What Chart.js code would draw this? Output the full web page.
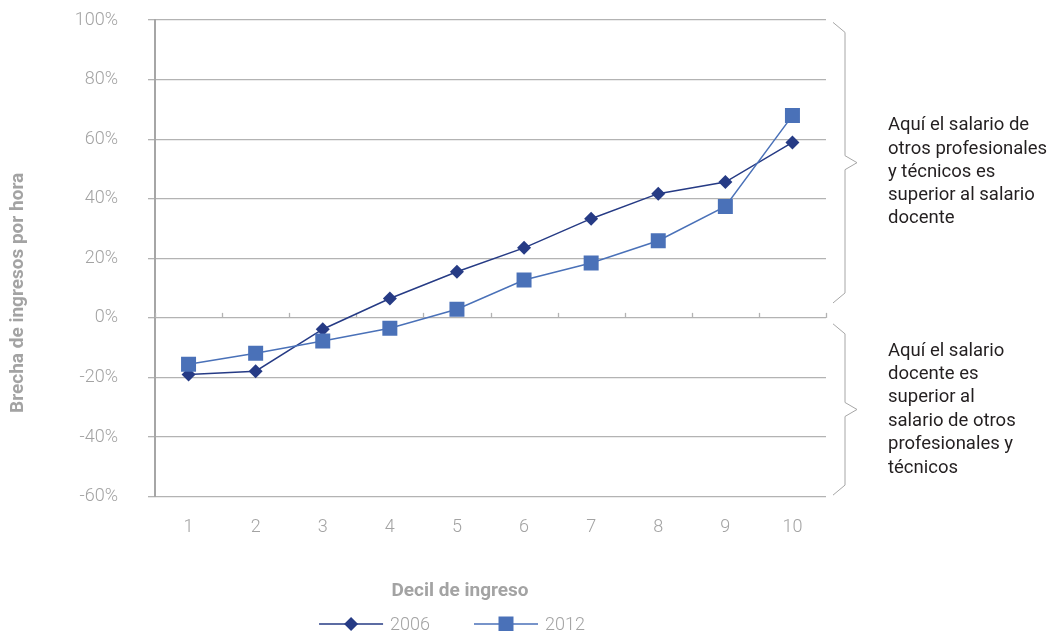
<!DOCTYPE html>
<html>
<head>
<meta charset="utf-8">
<script src="https://cdn.jsdelivr.net/npm/chart.js@4"></script>
<style>
  body { margin: 0; background: #fff; }
  #brecha { display: block; }
</style>
</head>
<body>
<canvas id="brecha" width="1050" height="631"></canvas>
<script>
// Brecha de ingresos por hora por decil, 2006 vs 2012
const deciles = ['1', '2', '3', '4', '5', '6', '7', '8', '9', '10'];
const brecha2006 = [-19, -17.9, -3.8, 6.5, 15.5, 23.5, 33.3, 41.7, 45.6, 58.9];
const brecha2012 = [-15.6, -11.9, -7.8, -3.5, 2.9, 12.7, 18.4, 25.9, 37.4, 67.9];
const ejeMin = -60;
const ejeMax = 100;
const ejePaso = 20;

const tituloY = 'Brecha de ingresos por hora';
const notaArriba = ['Aquí el salario de', 'otros profesionales', 'y técnicos es', 'superior al salario', 'docente'];
const notaAbajo = ['Aquí el salario', 'docente es', 'superior al', 'salario de otros', 'profesionales y', 'técnicos'];

const AZUL_OSCURO = '#263b85';
const AZUL = '#4a71b8';
const GRIS = '#b3b3b3';
const GRIS_TEXTO = '#a3a3a3';
const FUENTE = 'Roboto, "Open Sans", sans-serif';

// marcador de la serie, igual que en el grafico
function marcador(ctx, tipo, x, y) {
    ctx.beginPath();
    if (tipo === 'rectRot') {
        ctx.moveTo(x, y - 7); ctx.lineTo(x + 7, y); ctx.lineTo(x, y + 7); ctx.lineTo(x - 7, y);
    } else {
        ctx.rect(x - 7.5, y - 7.5, 15, 15);
    }
    ctx.closePath();
    ctx.fill();
}

// marcas sobre el 0%, llaves, notas, titulo del eje y leyenda
const llaves = {
    id: 'llaves',
    beforeDatasetsDraw(chart) {
        const { ctx, chartArea, scales } = chart;
        const y0 = scales.y.getPixelForValue(0);
        const paso = (chartArea.right - chartArea.left) / deciles.length;
        ctx.save();
        ctx.strokeStyle = GRIS;
        ctx.lineWidth = 1.3;
        for (let i = 0; i <= deciles.length; i++) {
            const x = Math.round(chartArea.left + i * paso) + 0.5;
            ctx.beginPath(); ctx.moveTo(x, y0); ctx.lineTo(x, y0 - 5); ctx.stroke();
        }
        ctx.restore();
    },
    afterDraw(chart) {
        const { ctx, chartArea, scales } = chart;
        const y = scales.y;
        const x0 = chartArea.right + 7;
        const llave = (desde, hasta) => {
            const top = y.getPixelForValue(desde);
            const bot = y.getPixelForValue(hasta);
            const mid = (top + bot) / 2;
            ctx.beginPath();
            ctx.moveTo(x0, top);
            ctx.lineTo(x0 + 12, top + 10);
            ctx.lineTo(x0 + 12, mid - 7);
            ctx.lineTo(x0 + 24, mid);
            ctx.lineTo(x0 + 12, mid + 7);
            ctx.lineTo(x0 + 12, bot - 10);
            ctx.lineTo(x0, bot);
            ctx.stroke();
        };
        ctx.save();
        ctx.strokeStyle = '#a6a6a6';
        ctx.lineWidth = 1;
        llave(99.2, 5);
        llave(-2, -59.5);

        ctx.fillStyle = '#231f20';
        ctx.font = '18.5px ' + FUENTE;
        ctx.textBaseline = 'middle';
        ctx.textAlign = 'left';
        const tx = chartArea.right + 62;
        let ty = y.getPixelForValue(64.5);
        notaArriba.forEach((t, i) => ctx.fillText(t, tx, ty + i * 23.2));
        ty = y.getPixelForValue(-11.1);
        notaAbajo.forEach((t, i) => ctx.fillText(t, tx, ty + i * 23.4));

        // titulo vertical, algo por debajo del centro del eje
        ctx.save();
        ctx.translate(18, y.getPixelForValue(8.4));
        ctx.rotate(-Math.PI / 2);
        ctx.textAlign = 'center';
        ctx.fillStyle = GRIS_TEXTO;
        ctx.font = 'bold 19px ' + FUENTE;
        ctx.fillText(tituloY, 0, 0);
        ctx.restore();

        // leyenda: linea de 64px con el marcador al centro
        ctx.font = '300 18px ' + FUENTE;
        const items = chart.data.datasets.map(ds => ({
            ds, ancho: 64 + 7 + ctx.measureText(ds.label).width
        }));
        const sep = 44;
        const total = items.reduce((s, it) => s + it.ancho, 0) + sep * (items.length - 1);
        const tb = chart.titleBlock;
        let lx = (tb.left + tb.right) / 2 - 8 - total / 2;
        const ly = chart.height - 7;
        items.forEach(({ ds, ancho }) => {
            ctx.strokeStyle = ds.borderColor;
            ctx.lineWidth = 1.5;
            ctx.beginPath(); ctx.moveTo(lx, ly); ctx.lineTo(lx + 64, ly); ctx.stroke();
            ctx.fillStyle = ds.borderColor;
            marcador(ctx, ds.pointStyle, lx + 32, ly);
            ctx.fillStyle = GRIS_TEXTO;
            ctx.fillText(ds.label, lx + 71, ly + 1);
            lx += ancho + sep;
        });
        ctx.restore();
    }
};

new Chart(document.getElementById('brecha'), {
    type: 'line',
    data: {
        labels: deciles,
        datasets: [{
            label: '2006',
            data: brecha2006,
            borderColor: AZUL_OSCURO,
            backgroundColor: AZUL_OSCURO,
            borderWidth: 1.5,
            pointStyle: 'rectRot',
            pointRadius: 7,
            pointBorderWidth: 0,
            order: 2
        }, {
            label: '2012',
            data: brecha2012,
            borderColor: AZUL,
            backgroundColor: AZUL,
            borderWidth: 1.5,
            pointStyle: 'rect',
            pointRadius: 10.6,
            pointBorderWidth: 0,
            order: 1
        }]
    },
    options: {
        responsive: false,
        animation: false,
        layout: { padding: { top: 20, left: 0, right: 130, bottom: 0 } },
        plugins: {
            tooltip: { enabled: false },
            legend: { display: false },
            title: {
                display: true,
                position: 'bottom',
                text: 'Decil de ingreso',
                color: GRIS_TEXTO,
                font: { family: FUENTE, size: 19, weight: 'bold' },
                padding: { top: 22, bottom: 28 }
            }
        },
        scales: {
            x: {
                offset: true,
                grid: { display: false, drawTicks: false },
                border: { display: false },
                ticks: {
                    color: GRIS_TEXTO,
                    padding: 20,
                    font: { family: FUENTE, size: 18, weight: 300 }
                }
            },
            y: {
                min: ejeMin,
                max: ejeMax,
                afterFit(s) {
                    s.width = 155;
                    s.paddingTop = 0;
                    s.paddingBottom = 0;
                },
                grid: { color: GRIS, lineWidth: 1.3, tickLength: 7 },
                border: { color: '#a6a6a6', width: 2 },
                ticks: {
                    stepSize: ejePaso,
                    color: GRIS_TEXTO,
                    padding: 30,
                    font: { family: FUENTE, size: 18, weight: 300 },
                    callback: v => v + '%'
                }
            },
            yDer: {
                position: 'right',
                display: true,
                afterFit(s) { s.width = 94; },
                grid: { display: false, drawTicks: false },
                border: { display: false },
                ticks: { display: false }
            }
        }
    },
    plugins: [llaves]
});
</script>
</body>
</html>
